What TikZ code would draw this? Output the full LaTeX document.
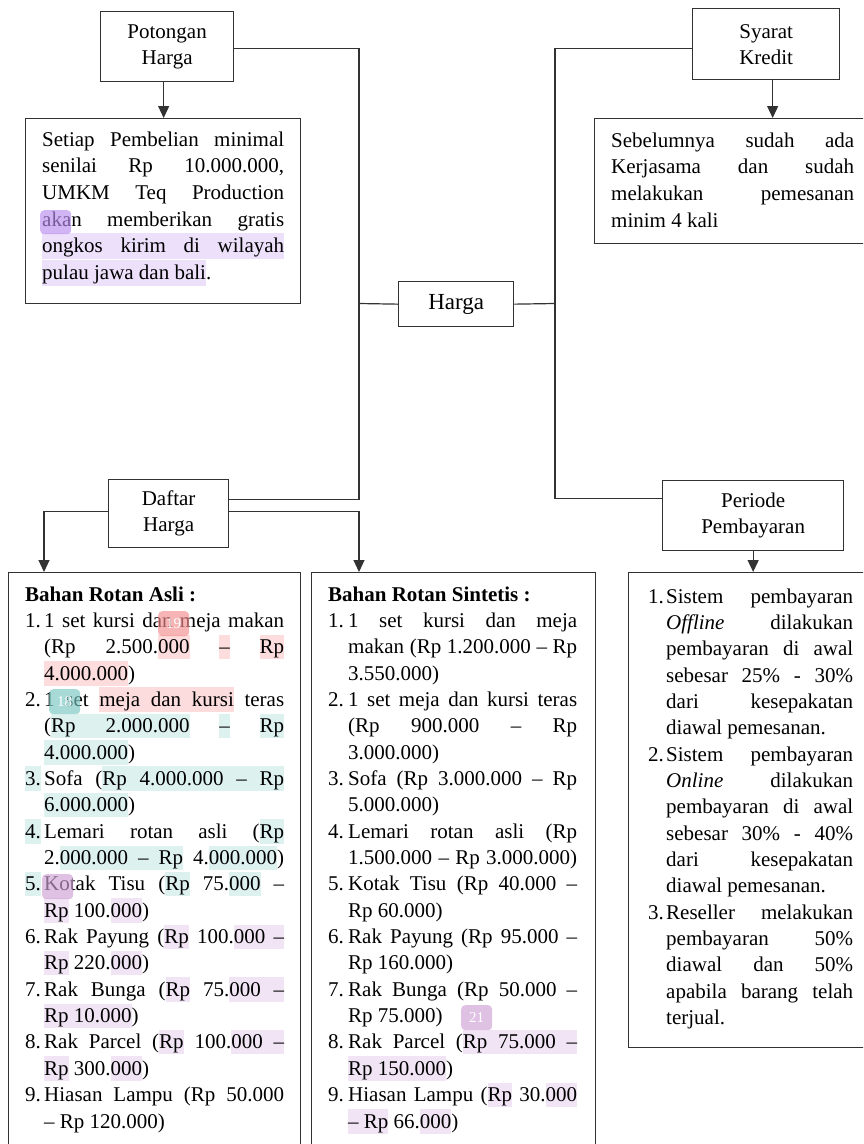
\documentclass[tikz,border=0pt]{standalone}
\usepackage{fontspec}
\setmainfont{Liberation Serif}
\usetikzlibrary{arrows.meta,calc}
\definecolor{ln}{RGB}{50,50,50}
\definecolor{hpk}{RGB}{252,220,220}
\definecolor{htl}{RGB}{221,241,239}
\definecolor{hpu}{RGB}{241,229,245}
\definecolor{hpv}{RGB}{237,224,251}
\definecolor{bpk}{RGB}{242,140,140}
\definecolor{btl}{RGB}{120,196,192}
\definecolor{bpu}{RGB}{205,160,212}
\definecolor{bpv}{RGB}{185,140,238}
\newlength\rind
\newlength\rhlw
\newlength\rhlht
\newlength\rhldp
\setlength\rhlht{19pt}
\setlength\rhldp{5.5pt}
\newcommand\rsk{\spaceskip=\fontdimen2\font plus 1fil minus \fontdimen4\font\relax}
\newcommand\rLJ[1]{\hbox to \linewidth{\rsk #1}}
\newcommand\rLL[1]{\hbox to \linewidth{\rsk #1\hfill}}
\newcommand\rIJ[2]{\hbox to \linewidth{\rsk\hbox to \rind{#1\hfil}#2}}
\newcommand\rCJ[1]{\hbox to \linewidth{\rsk\hskip\rind\relax #1}}
\newcommand\rCL[1]{\hbox to \linewidth{\rsk\hskip\rind\relax #1\hfill}}
\newcommand\rhl[2]{\settowidth\rhlw{#2}\rlap{\textcolor{#1}{\rule[-\rhldp]{\rhlw}{\dimexpr\rhlht+\rhldp\relax}}}#2}
\newcommand\rhs[1]{\textcolor{#1}{\leaders\hrule height\rhlht depth\rhldp\hskip\fontdimen2\font plus 1fil minus\fontdimen4\font}}
\begin{document}
\begin{tikzpicture}[x=1pt,y=-1pt,
  box/.style={draw=ln,line width=1.3pt,rectangle,inner sep=0pt,anchor=north west},
  lbl/.style={font=\fontsize{21}{26}\selectfont,align=center},
  txt/.style={anchor=base west,inner sep=0pt,font=\fontsize{21}{26.7}\selectfont},
  lst/.style={anchor=base west,inner sep=0pt,font=\fontsize{21}{26.35}\selectfont},
  conn/.style={draw=ln,line width=1.2pt},
  arr/.style={conn,-{Triangle[length=12pt,width=11pt]}},
  badge/.style={rectangle,rounded corners=4pt,inner sep=0pt,anchor=north west,text=white,font=\fontsize{15}{15}\selectfont,fill opacity=0.65,text opacity=1}]
\useasboundingbox (0,0) rectangle (863,1144);
\clip (0,0) rectangle (863,1144);

% header boxes
\node[box,lbl,minimum width=133pt,minimum height=70pt] (pot) at (100,11) {Potongan\\Harga};
\node[box,lbl,minimum width=147pt,minimum height=71pt] (syarat) at (692,8) {Syarat\\Kredit};
\node[box,font=\fontsize{23}{26}\selectfont,minimum width=115pt,minimum height=45pt] (harga) at (398,281) {Harga};
\node[box,lbl,minimum width=120pt,minimum height=68pt] (daftar) at (108,479) {Daftar\\Harga};
\node[box,lbl,minimum width=181pt,minimum height=70pt] (periode) at (662,480) {Periode\\Pembayaran};

% content boxes
\node[box,minimum width=275pt,minimum height=185pt] (setiap) at (25,118) {};
\node[box,minimum width=290pt,minimum height=125pt] (sebel) at (594,118) {};
\node[box,minimum width=292pt,minimum height=600pt] (lbox) at (8,572) {};
\node[box,minimum width=284pt,minimum height=600pt] (mbox) at (311,572) {};
\node[box,minimum width=260pt,minimum height=475pt] (rbox) at (628,572) {};

% texts
\node[txt,text width=242pt] (tsetiap) at (42,146) {%
\setlength\rhlht{20pt}\setlength\rhldp{6pt}%
\rLJ{Setiap Pembelian minimal}
\rLJ{senilai Rp 10.000.000,}
\rLJ{UMKM Teq Production}
\rLJ{akan memberikan gratis}
\rLJ{\rhl{hpv}{ongkos}\rhs{hpv}\rhl{hpv}{kirim}\rhs{hpv}\rhl{hpv}{di}\rhs{hpv}\rhl{hpv}{wilayah}}
\rLL{\rhl{hpv}{pulau}\rhs{hpv}\rhl{hpv}{jawa}\rhs{hpv}\rhl{hpv}{dan}\rhs{hpv}\rhl{hpv}{bali}.}};

\node[txt,text width=243pt] (tsebel) at (611,147) {%
\rLJ{Sebelumnya sudah ada}
\rLJ{Kerjasama dan sudah}
\rLJ{melakukan pemesanan}
\rLL{minim 4 kali}};

\node[lst,text width=259pt] (tleft) at (25,601) {%
\setlength\rind{19pt}%
\rLL{\textbf{Bahan Rotan Asli :}}
\rIJ{1.}{1 set kursi dan meja makan}
\rCJ{(Rp 2.500.\rhl{hpk}{000} \rhl{hpk}{–} \rhl{hpk}{Rp}}
\rCL{\rhl{hpk}{4.000.000})}
\rIJ{2.}{1 set \rhl{hpk}{meja}\rhs{hpk}\rhl{hpk}{dan}\rhs{hpk}\rhl{hpk}{kursi} teras}
\rCJ{(\rhl{htl}{Rp}\rhs{htl}\rhl{htl}{2.000.000} \rhl{htl}{–} \rhl{htl}{Rp}}
\rCL{\rhl{htl}{4.000.000})}
\rIJ{\rhl{htl}{3.}}{Sofa (\rhl{htl}{Rp}\rhs{htl}\rhl{htl}{4.000.000}\rhs{htl}\rhl{htl}{–}\rhs{htl}\rhl{htl}{Rp}}
\rCL{\rhl{htl}{6.000.000})}
\rIJ{\rhl{htl}{4.}}{Lemari rotan asli (\rhl{htl}{Rp}}
\rCJ{2.\rhl{htl}{000.000}\rhs{htl}\rhl{htl}{–}\rhs{htl}\rhl{htl}{Rp} 4.\rhl{htl}{000.000})}
\rIJ{\rhl{htl}{5.}}{Kotak Tisu (\rhl{htl}{Rp} 75.\rhl{htl}{000} –}
\rCL{\rhl{hpu}{Rp} 100.\rhl{hpu}{000})}
\rIJ{6.}{Rak Payung (\rhl{hpu}{Rp} 100.\rhl{hpu}{000}\rhs{hpu}\rhl{hpu}{–}}
\rCL{\rhl{hpu}{Rp} 220.\rhl{hpu}{000})}
\rIJ{7.}{Rak Bunga (\rhl{hpu}{Rp} 75.\rhl{hpu}{000}\rhs{hpu}\rhl{hpu}{–}}
\rCL{\rhl{hpu}{Rp}\rhs{hpu}\rhl{hpu}{10.000})}
\rIJ{8.}{Rak Parcel (\rhl{hpu}{Rp} 100.\rhl{hpu}{000}\rhs{hpu}\rhl{hpu}{–}}
\rCL{\rhl{hpu}{Rp} 300.\rhl{hpu}{000})}
\rIJ{9.}{Hiasan Lampu (Rp 50.000}
\rCL{– Rp 120.000)}};

\node[lst,text width=249pt] (tmid) at (328,601) {%
\setlength\rind{20pt}%
\rLL{\textbf{Bahan Rotan Sintetis :}}
\rIJ{1.}{1 set kursi dan meja}
\rCJ{makan (Rp 1.200.000 – Rp}
\rCL{3.550.000)}
\rIJ{2.}{1 set meja dan kursi teras}
\rCJ{(Rp 900.000 – Rp}
\rCL{3.000.000)}
\rIJ{3.}{Sofa (Rp 3.000.000 – Rp}
\rCL{5.000.000)}
\rIJ{4.}{Lemari rotan asli (Rp}
\rCJ{1.500.000 – Rp 3.000.000)}
\rIJ{5.}{Kotak Tisu (Rp 40.000 –}
\rCL{Rp 60.000)}
\rIJ{6.}{Rak Payung (Rp 95.000 –}
\rCL{Rp 160.000)}
\rIJ{7.}{Rak Bunga (Rp 50.000 –}
\rCL{Rp 75.000)}
\rIJ{8.}{Rak Parcel (\rhl{hpu}{Rp}\rhs{hpu}\rhl{hpu}{75.000}\rhs{hpu}\rhl{hpu}{–}}
\rCL{\rhl{hpu}{Rp}\rhs{hpu}\rhl{hpu}{150.000})}
\rIJ{9.}{Hiasan Lampu (\rhl{hpu}{Rp} 30.\rhl{hpu}{000}}
\rCL{\rhl{hpu}{–}\rhs{hpu}\rhl{hpu}{Rp} 66.\rhl{hpu}{000})}};

\node[lst,text width=205pt] (tright) at (648,603) {%
\setlength\rind{18pt}%
\rIJ{1.}{Sistem pembayaran}
\rCJ{\textit{Offline} dilakukan}
\rCJ{pembayaran di awal}
\rCJ{sebesar 25\% - 30\%}
\rCJ{dari kesepakatan}
\rCL{diawal pemesanan.}
\rIJ{2.}{Sistem pembayaran}
\rCJ{\textit{Online} dilakukan}
\rCJ{pembayaran di awal}
\rCJ{sebesar 30\% - 40\%}
\rCJ{dari kesepakatan}
\rCL{diawal pemesanan.}
\rIJ{3.}{Reseller melakukan}
\rCJ{pembayaran 50\%}
\rCJ{diawal dan 50\%}
\rCJ{apabila barang telah}
\rCL{terjual.}};

% connectors
\coordinate (jl) at (359,303.5);
\coordinate (jr) at (555,303.5);
\draw[conn] ([yshift=-2pt]pot.east) -| (jl) |- ([yshift=14pt]daftar.east);
\draw[conn] (harga.west) -- (jl);
\draw[conn] ([yshift=-4.5pt]syarat.west) -| (jr) |- ([yshift=17pt]periode.west);
\draw[conn] (harga.east) -- (jr);
\draw[arr] ([xshift=-3.5pt]pot.south) -- ([xshift=-3.5pt]pot.south |- setiap.north);
\draw[arr] ([xshift=6.5pt]syarat.south) -- ([xshift=6.5pt]syarat.south |- sebel.north);
\draw[arr] ([yshift=2pt]daftar.west) -| ([xshift=36pt]lbox.north west);
\draw[arr] ([yshift=2pt]daftar.east) -| ([xshift=48pt]mbox.north west);
\draw[arr] (periode.south) -- (periode.south |- rbox.north);

% annotation badges
\node[badge,fill=bpv,minimum width=31pt,minimum height=24pt] (bak) at (40,210) {};
\node[badge,fill=bpk,minimum width=31pt,minimum height=25pt] (b19) at (158,611) {19};
\node[badge,fill=btl,minimum width=31pt,minimum height=25pt] (b18) at (49,689) {18};
\node[badge,fill=bpu,minimum width=31pt,minimum height=25pt] (bko) at (42,874) {};
\node[badge,fill=bpu,minimum width=31pt,minimum height=25pt] (b21) at (461,1005) {21};
\end{tikzpicture}
\end{document}
